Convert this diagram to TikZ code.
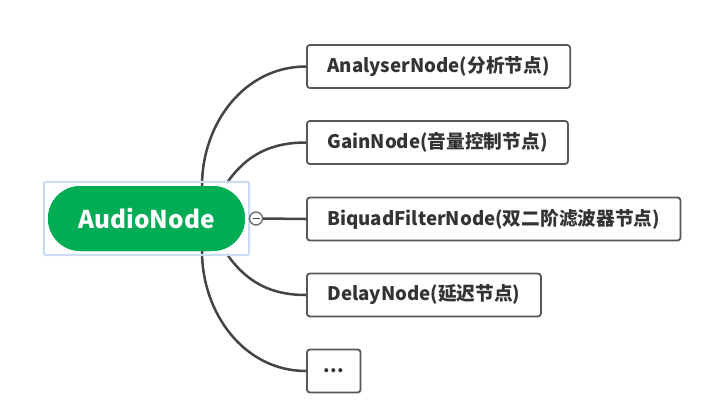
\documentclass[tikz,border=0pt]{standalone}
\usepackage{fontspec}
\setmainfont{Noto Sans CJK SC}
\definecolor{rootGreen}{RGB}{0,173,84}
\definecolor{selBlue}{RGB}{201,220,243}
\definecolor{lineGray}{RGB}{68,68,68}
\definecolor{textGray}{RGB}{51,51,51}

\begin{document}
\begin{tikzpicture}[x=1pt,y=-1pt,
    root/.style={fill=rootGreen,text=white,rounded corners=32.5pt,
                 minimum width=197pt,minimum height=65pt,
                 font=\fontsize{24.4}{28}\selectfont\bfseries},
    sel/.style={draw=selBlue,line width=2pt,rounded corners=2pt},
    leaf/.style={draw=lineGray!90,line width=1.8pt,rounded corners=3pt,fill=white,
                 anchor=west,minimum height=43pt,inner xsep=20.5pt,text=textGray,
                 font=\fontsize{18.7}{22}\selectfont\bfseries},
    branch/.style={draw=lineGray,line width=2.5pt},
    fold/.style={circle,draw=lineGray!80,fill=white,line width=1.3pt,
                 minimum size=13pt,inner sep=0pt},
  ]
    \useasboundingbox (0,0) rectangle (716,413);

    % Children
    \node[leaf] (analyser) at (306,66.5) {AnalyserNode(分析节点)};
    \node[leaf] (gain)     at (306,142.5) {GainNode(音量控制节点)};
    \node[leaf] (biquad)   at (306,219) {BiquadFilterNode(双二阶滤波器节点)};
    \node[leaf] (delay)    at (306,295) {DelayNode(延迟节点)};
    \node[leaf,inner xsep=17pt] (more) at (306,371) {...};

    % Root
    \node[root] (audio) at (146.5,218.5) {};

    % Branches
    \draw[branch] ([xshift=55.5pt]audio.north) to[out=90,in=180] (analyser.west);
    \draw[branch] ([xshift=80.5pt,yshift=3pt]audio.north) to[out=55,in=180] (gain.west);
    \draw[branch] ([xshift=80.5pt,yshift=-3pt]audio.south) to[out=-55,in=180] (delay.west);
    \draw[branch] ([xshift=55.5pt]audio.south) to[out=-90,in=180] (more.west);

    \node[root] at (audio) {AudioNode};
    \draw[sel] ([shift={(-4,-4)}]audio.north west) rectangle ([shift={(4,4)}]audio.south east);

    % Fold button
    \node[fold] (minus) at (256,218.5) {};
    \draw[branch] (minus.east) -- (biquad.west);
    \draw[lineGray,line width=1.3pt] ([xshift=-3.5pt]minus.center) -- ([xshift=3.5pt]minus.center);
\end{tikzpicture}
\end{document}
